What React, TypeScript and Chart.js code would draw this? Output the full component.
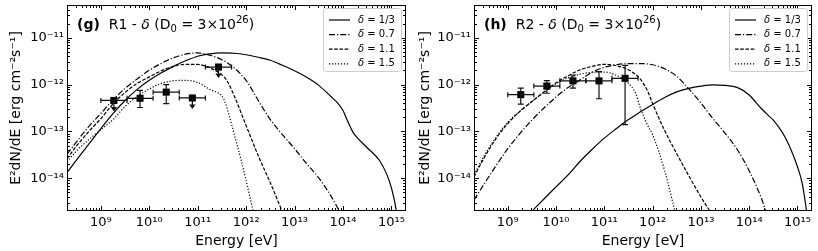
import React, { useEffect, useRef } from 'react';
import { Chart, registerables } from 'chart.js';

Chart.register(...registerables);

const FONT = '"DejaVu Sans", "Liberation Sans", sans-serif';
Chart.defaults.font.family = FONT;
Chart.defaults.color = '#000';

// ---- axes ----
const xMin = 2e8;
const xMax = 2e15;
const yMin = 2e-15;
const yMax = 5e-11;
const xTickValues = [1e9, 1e10, 1e11, 1e12, 1e13, 1e14, 1e15];
const yTickValues = [1e-14, 1e-13, 1e-12, 1e-11];
const xTitle = 'Energy [eV]';
const yTitle = 'E²dN/dE [erg cm⁻²s⁻¹]';
const deltaLabels = ['1/3', '0.7', '1.1', '1.5'];

// ---- Fermi-LAT points (shared energy bins) ----
const fermiE = [1.86e9, 6.45e9, 2.24e10, 7.76e10, 2.69e11];
const fermiELo = [1.0e9, 3.47e9, 1.2e10, 4.16e10, 1.44e11];
const fermiEHi = [3.47e9, 1.2e10, 4.16e10, 1.44e11, 5.0e11];

const r1Flux = [4.58e-13, 5.1e-13, 6.9e-13, 5.18e-13, 2.37e-12];
const r1FluxLo = [null, 3.24e-13, 3.94e-13, null, null];
const r1FluxHi = [null, 7.5e-13, 9.96e-13, null, null];
const r1UpperLimit = [true, false, false, true, true];

const r2Flux = [6.1e-13, 9.29e-13, 1.2e-12, 1.2e-12, 1.36e-12];
const r2FluxLo = [3.81e-13, 6.53e-13, 8.38e-13, 4.98e-13, 1.4e-13];
const r2FluxHi = [8.38e-13, 1.21e-12, 1.6e-12, 1.89e-12, 2.58e-12];
const r2UpperLimit = [false, false, false, false, false];

// ---- R1 model curves ----
const r1E_d033 = [2e8, 3.16e8, 5.62e8, 1e9, 1.78e9, 3.16e9, 5.62e9, 1e10, 1.78e10, 3.16e10, 5.62e10, 1e11, 1.78e11, 3.16e11, 5.62e11, 1e12, 1.78e12, 3.16e12, 5.62e12, 1e13, 1.78e13, 3.16e13, 5.62e13, 7.94e13, 1e14, 1.26e14, 1.58e14, 2e14, 3.16e14, 5.62e14, 7.94e14, 1e15, 1.26e15, 1.35e15];
const r1F_d033 = [1.31e-14, 2.48e-14, 5.34e-14, 1.15e-13, 2.41e-13, 4.58e-13, 7.89e-13, 1.23e-12, 1.78e-12, 2.45e-12, 3.22e-12, 4.03e-12, 4.53e-12, 4.74e-12, 4.67e-12, 4.33e-12, 3.83e-12, 3.3e-12, 2.58e-12, 1.97e-12, 1.43e-12, 9.61e-13, 5.58e-13, 3.94e-13, 2.79e-13, 1.62e-13, 9.91e-14, 7.18e-14, 4.49e-14, 2.42e-14, 1.24e-14, 6.22e-15, 2.0e-15, 1.0e-15];

const r1E_d07 = [2e8, 3.16e8, 5.62e8, 1e9, 1.78e9, 3.16e9, 5.62e9, 1e10, 1.78e10, 3.16e10, 5.62e10, 1e11, 1.78e11, 3.16e11, 5.62e11, 1e12, 1.78e12, 3.16e12, 5.62e12, 1e13, 1.78e13, 3.16e13, 5.62e13, 7.94e13, 1e14];
const r1F_d07 = [3.26e-14, 6.04e-14, 1.27e-13, 2.41e-13, 4.7e-13, 8.28e-13, 1.32e-12, 2.02e-12, 2.85e-12, 3.74e-12, 4.45e-12, 4.74e-12, 4.23e-12, 3.39e-12, 2.28e-12, 1.23e-12, 4.58e-13, 1.79e-13, 8.53e-14, 4.28e-14, 2.04e-14, 1.02e-14, 4.2e-15, 2.21e-15, 1.35e-15];

const r1E_d11 = [2e8, 3.16e8, 5.62e8, 1e9, 1.78e9, 3.16e9, 5.62e9, 1e10, 1.78e10, 3.16e10, 5.62e10, 1e11, 1.78e11, 3.16e11, 3.98e11, 5.62e11, 1e12, 1.78e12, 3.16e12, 5.62e12];
const r1F_d11 = [2.61e-14, 4.95e-14, 9.91e-14, 1.88e-13, 3.85e-13, 6.79e-13, 1.06e-12, 1.46e-12, 1.97e-12, 2.45e-12, 2.71e-12, 2.69e-12, 2.28e-12, 1.61e-12, 1.23e-12, 5.86e-13, 1.33e-13, 3.03e-14, 7.98e-15, 1.9e-15];

const r1E_d15 = [2e8, 3.16e8, 5.62e8, 1e9, 1.78e9, 3.16e9, 5.62e9, 1e10, 1.78e10, 3.16e10, 5.62e10, 1e11, 1.78e11, 2.51e11, 2.95e11, 3.55e11, 4.47e11, 5.62e11, 7.94e11, 1e12, 1.41e12];
const r1F_d15 = [2.25e-14, 3.87e-14, 6.67e-14, 1.09e-13, 1.79e-13, 3.4e-13, 5.58e-13, 8.07e-13, 1.06e-12, 1.21e-12, 1.23e-12, 1.11e-12, 7.9e-13, 6.79e-13, 6.17e-13, 4.58e-13, 2.18e-13, 8.97e-14, 2.37e-14, 8.81e-15, 1.9e-15];

// ---- R2 model curves ----
const r2E_d033 = [1.78e9, 3.16e9, 5.62e9, 1e10, 1.78e10, 3.16e10, 5.62e10, 1e11, 1.78e11, 3.16e11, 5.62e11, 1e12, 1.78e12, 3.16e12, 5.62e12, 1e13, 1.78e13, 3.16e13, 5.62e13, 1e14, 1.78e14, 2.51e14, 3.16e14, 5.62e14, 1e15, 1.26e15, 1.58e15];
const r2F_d033 = [1.08e-15, 1.97e-15, 3.61e-15, 6.54e-15, 1.18e-14, 2.31e-14, 4.17e-14, 7.18e-14, 1.15e-13, 1.79e-13, 2.62e-13, 3.76e-13, 5.31e-13, 6.97e-13, 8.28e-13, 9.23e-13, 9.84e-13, 9.61e-13, 8.71e-13, 6.01e-13, 3.08e-13, 2.18e-13, 1.75e-13, 7.36e-14, 1.76e-14, 7.59e-15, 1.72e-15];

const r2E_d07 = [2e8, 3.16e8, 5.62e8, 1e9, 1.78e9, 3.16e9, 5.62e9, 1e10, 1.78e10, 3.16e10, 5.62e10, 1e11, 1.78e11, 3.16e11, 5.62e11, 1e12, 1.78e12, 3.16e12, 5.62e12, 1e13, 1.78e13, 3.16e13, 5.62e13, 1e14, 1.78e14, 2.24e14];
const r2F_d07 = [3.44e-15, 7.23e-15, 1.8e-14, 4.28e-14, 8.97e-14, 1.75e-13, 3.16e-13, 5.44e-13, 8.71e-13, 1.26e-12, 1.83e-12, 2.34e-12, 2.65e-12, 2.81e-12, 2.81e-12, 2.65e-12, 2.17e-12, 1.5e-12, 8.07e-13, 4.05e-13, 1.88e-13, 9.2e-14, 4.17e-14, 1.44e-14, 3.8e-15, 1.9e-15];

const r2E_d11 = [2e8, 3.16e8, 5.62e8, 1e9, 1.78e9, 3.16e9, 5.62e9, 1e10, 1.78e10, 3.16e10, 5.62e10, 1e11, 1.78e11, 3.16e11, 5.62e11, 7.94e11, 1e12, 1.78e12, 3.16e12, 5.62e12, 1e13, 1.58e13];
const r2F_d11 = [1.07e-14, 2.61e-14, 6.84e-14, 1.47e-13, 2.66e-13, 4.35e-13, 6.97e-13, 1.09e-12, 1.54e-12, 2.07e-12, 2.45e-12, 2.71e-12, 2.52e-12, 2.07e-12, 1.29e-12, 7.14e-13, 3.94e-13, 1.04e-13, 3.34e-14, 1.13e-14, 3.99e-15, 1.9e-15];

const r2E_d15 = [2e8, 3.16e8, 5.62e8, 1e9, 1.78e9, 3.16e9, 5.62e9, 1e10, 1.78e10, 3.16e10, 5.62e10, 1e11, 1.78e11, 3.16e11, 4.47e11, 5.62e11, 7.94e11, 1e12, 1.78e12, 2.82e12, 3.16e12];
const r2F_d15 = [1.18e-14, 2.88e-14, 7.36e-14, 1.55e-13, 2.72e-13, 4.35e-13, 6.79e-13, 1.04e-12, 1.39e-12, 1.66e-12, 1.83e-12, 1.85e-12, 1.57e-12, 1.06e-12, 6.47e-13, 3.08e-13, 1.33e-13, 8.53e-14, 1.44e-14, 2.21e-15, 1.35e-15];

// ---- styles ----
const DASHES: number[][] = [[], [6, 2, 1.2, 2], [3.6, 1.6], [1.2, 1.8]];
const LINE_W = 1.2;

const SUP: Record<string, string> = {
  '0': '⁰', '1': '¹', '2': '²', '3': '³', '4': '⁴', '5': '⁵', '6': '⁶', '7': '⁷', '8': '⁸', '9': '⁹', '-': '⁻',
};
const powLabel = (v: number) =>
  '10' + String(Math.round(Math.log10(v))).split('').map((c) => SUP[c] || c).join('');

type PanelDef = {
  letter: string;
  region: string;
  curves: { E: number[]; F: number[] }[];
  flux: number[];
  fluxLo: (number | null)[];
  fluxHi: (number | null)[];
  ul: boolean[];
  yWidth: number;
  padRight: number;
};

const panels: PanelDef[] = [
  {
    letter: 'g',
    region: 'R1',
    curves: [
      { E: r1E_d033, F: r1F_d033 },
      { E: r1E_d07, F: r1F_d07 },
      { E: r1E_d11, F: r1F_d11 },
      { E: r1E_d15, F: r1F_d15 },
    ],
    flux: r1Flux,
    fluxLo: r1FluxLo,
    fluxHi: r1FluxHi,
    ul: r1UpperLimit,
    yWidth: 67,
    padRight: 3,
  },
  {
    letter: 'h',
    region: 'R2',
    curves: [
      { E: r2E_d033, F: r2F_d033 },
      { E: r2E_d07, F: r2F_d07 },
      { E: r2E_d11, F: r2F_d11 },
      { E: r2E_d15, F: r2F_d15 },
    ],
    flux: r2Flux,
    fluxLo: r2FluxLo,
    fluxHi: r2FluxHi,
    ul: r2UpperLimit,
    yWidth: 65,
    padRight: 6,
  },
];

function makePlugins(p: PanelDef) {
  const errorBars = {
    id: 'errorBars',
    afterDatasetsDraw(chart: any) {
      const { ctx, scales } = chart;
      const xs = scales.x;
      const ys = scales.y;
      ctx.save();
      ctx.strokeStyle = '#111';
      ctx.fillStyle = '#111';
      ctx.lineWidth = 1.2;
      ctx.setLineDash([]);
      for (let i = 0; i < fermiE.length; i++) {
        const px = xs.getPixelForValue(fermiE[i]);
        const py = ys.getPixelForValue(p.flux[i]);
        const xl = xs.getPixelForValue(fermiELo[i]);
        const xh = xs.getPixelForValue(fermiEHi[i]);
        ctx.beginPath();
        ctx.moveTo(xl, py);
        ctx.lineTo(xh, py);
        ctx.moveTo(xl, py - 2.5);
        ctx.lineTo(xl, py + 2.5);
        ctx.moveTo(xh, py - 2.5);
        ctx.lineTo(xh, py + 2.5);
        ctx.stroke();
        if (p.ul[i]) {
          const tip = py + 11;
          ctx.beginPath();
          ctx.moveTo(px, py);
          ctx.lineTo(px, tip - 3);
          ctx.stroke();
          ctx.beginPath();
          ctx.moveTo(px - 3.2, tip - 4.5);
          ctx.lineTo(px + 3.2, tip - 4.5);
          ctx.lineTo(px, tip);
          ctx.closePath();
          ctx.fill();
        } else if (p.fluxLo[i] != null && p.fluxHi[i] != null) {
          const yl = ys.getPixelForValue(p.fluxLo[i] as number);
          const yh = ys.getPixelForValue(p.fluxHi[i] as number);
          ctx.beginPath();
          ctx.moveTo(px, yl);
          ctx.lineTo(px, yh);
          ctx.moveTo(px - 3, yl);
          ctx.lineTo(px + 3, yl);
          ctx.moveTo(px - 3, yh);
          ctx.lineTo(px + 3, yh);
          ctx.stroke();
        }
      }
      ctx.restore();
    },
  };

  const decor = {
    id: 'decor',
    afterDraw(chart: any) {
      const { ctx, chartArea, scales } = chart;
      const L = chartArea.left;
      const R = chartArea.right;
      const T = chartArea.top;
      const B = chartArea.bottom;
      ctx.save();
      ctx.setLineDash([]);
      ctx.strokeStyle = '#000';
      ctx.lineWidth = 1;
      const drawTicks = (scale: any, horizontal: boolean) => {
        const lo = Math.floor(Math.log10(scale.min));
        const hi = Math.ceil(Math.log10(scale.max));
        ctx.beginPath();
        for (let d = lo; d <= hi; d++) {
          for (let k = 1; k <= 9; k++) {
            const v = k * Math.pow(10, d);
            if (v < scale.min * 1.0001 || v > scale.max * 0.9999) continue;
            const pos = Math.round(scale.getPixelForValue(v)) + 0.5;
            const len = k === 1 ? 4.5 : 2.5;
            if (horizontal) {
              ctx.moveTo(pos, B - 0.5);
              ctx.lineTo(pos, B - 0.5 - len);
              ctx.moveTo(pos, T + 0.5);
              ctx.lineTo(pos, T + 0.5 + len);
            } else {
              ctx.moveTo(L + 0.5, pos);
              ctx.lineTo(L + 0.5 + len, pos);
              ctx.moveTo(R - 0.5, pos);
              ctx.lineTo(R - 0.5 - len, pos);
            }
          }
        }
        ctx.stroke();
      };
      drawTicks(scales.x, true);
      drawTicks(scales.y, false);
      ctx.strokeRect(L + 0.5, T + 0.5, R - L - 1, B - T - 1);

      // panel title
      let cx = L + 10;
      const by = T + 23.5;
      ctx.fillStyle = '#000';
      ctx.textBaseline = 'alphabetic';
      ctx.textAlign = 'left';
      const seg = (text: string, font: string, dy = 0) => {
        ctx.font = font;
        ctx.fillText(text, cx, by + dy);
        cx += ctx.measureText(text).width;
      };
      seg(`(${p.letter})`, `bold 14px ${FONT}`);
      seg(`  ${p.region} - `, `14px ${FONT}`);
      seg('δ', `italic 14px ${FONT}`);
      seg(' (D', `14px ${FONT}`);
      seg('0', `10px ${FONT}`, 3);
      seg(' = 3×10', `14px ${FONT}`);
      seg('26', `10px ${FONT}`, -6);
      seg(')', `14px ${FONT}`);

      // legend
      const w = 78;
      const h = 63;
      const lx = Math.round(R - 5 - w) + 0.5;
      const ly = Math.round(T + 3) + 0.5;
      ctx.beginPath();
      (ctx as any).roundRect(lx, ly, w, h, 3);
      ctx.fillStyle = 'rgba(255,255,255,0.8)';
      ctx.fill();
      ctx.strokeStyle = '#cccccc';
      ctx.lineWidth = 1;
      ctx.stroke();
      ctx.textBaseline = 'middle';
      for (let i = 0; i < deltaLabels.length; i++) {
        const yy = ly + 11.5 + i * 14.6;
        ctx.beginPath();
        ctx.strokeStyle = '#000';
        ctx.lineWidth = LINE_W;
        ctx.setLineDash(DASHES[i]);
        ctx.moveTo(lx + 5.5, yy);
        ctx.lineTo(lx + 26.5, yy);
        ctx.stroke();
        ctx.setLineDash([]);
        ctx.fillStyle = '#000';
        let tx = lx + 34.5;
        ctx.font = `italic 10px ${FONT}`;
        ctx.fillText('δ', tx, yy);
        tx += ctx.measureText('δ').width;
        ctx.font = `10px ${FONT}`;
        ctx.fillText(` = ${deltaLabels[i]}`, tx, yy);
      }
      ctx.restore();
    },
  };
  return [errorBars, decor];
}

function buildConfig(p: PanelDef): any {
  const lineSets = p.curves.map((c, i) => ({
    type: 'line',
    label: 'δ = ' + deltaLabels[i],
    data: c.E.map((e, j) => ({ x: e, y: c.F[j] })),
    borderColor: '#000',
    borderWidth: LINE_W,
    borderDash: DASHES[i],
    pointRadius: 0,
    pointHoverRadius: 0,
    fill: false,
    cubicInterpolationMode: 'monotone',
    order: 2,
  }));
  const points = {
    type: 'scatter',
    label: 'Fermi-LAT',
    data: fermiE.map((e, j) => ({ x: e, y: p.flux[j] })),
    pointStyle: 'rect',
    pointRadius: 5,
    pointHoverRadius: 5,
    backgroundColor: '#000',
    borderColor: '#000',
    borderWidth: 0,
    showLine: false,
    order: 0,
  };
  return {
    type: 'line',
    data: { datasets: [...lineSets, points] },
    options: {
      animation: false,
      responsive: false,
      devicePixelRatio: 1,
      events: [],
      layout: { autoPadding: false, padding: { left: 0, right: p.padRight, top: 5, bottom: 0 } },
      plugins: { legend: { display: false }, tooltip: { enabled: false }, title: { display: false } },
      scales: {
        x: {
          type: 'logarithmic',
          min: xMin,
          max: xMax,
          afterBuildTicks: (s: any) => {
            s.ticks = xTickValues.map((v) => ({ value: v }));
          },
          afterFit: (s: any) => {
            s.height = 40;
            s.paddingLeft = 0;
            s.paddingRight = 0;
            s.paddingTop = 0;
            s.paddingBottom = 0;
          },
          grid: { display: false, drawTicks: false },
          border: { display: false },
          ticks: {
            callback: (v: any) => powLabel(Number(v)),
            font: { size: 13, family: FONT },
            color: '#000',
            padding: 4,
            maxRotation: 0,
            autoSkip: false,
          },
          title: { display: true, text: xTitle, font: { size: 14, family: FONT }, color: '#000', padding: { top: 0, bottom: 1 } },
        },
        y: {
          type: 'logarithmic',
          min: yMin,
          max: yMax,
          afterBuildTicks: (s: any) => {
            s.ticks = yTickValues.map((v) => ({ value: v }));
          },
          afterFit: (s: any) => {
            s.width = p.yWidth;
            s.paddingLeft = 0;
            s.paddingRight = 0;
            s.paddingTop = 0;
            s.paddingBottom = 0;
          },
          grid: { display: false, drawTicks: false },
          border: { display: false },
          ticks: {
            callback: (v: any) => powLabel(Number(v)),
            font: { size: 13, family: FONT },
            color: '#000',
            padding: 3,
            autoSkip: false,
          },
          title: { display: true, text: yTitle, font: { size: 14, family: FONT }, color: '#000', padding: { top: 8, bottom: 0 } },
        },
      },
    },
    plugins: makePlugins(p),
  };
}

function Panel({ def }: { def: PanelDef }) {
  const ref = useRef<HTMLCanvasElement>(null);
  useEffect(() => {
    const chart = new Chart(ref.current as HTMLCanvasElement, buildConfig(def));
    return () => chart.destroy();
  }, [def]);
  return <canvas ref={ref} width={409} height={251} style={{ display: 'block', width: 409, height: 251 }} />;
}

export default function App() {
  return (
    <div
      style={{
        position: 'absolute',
        left: 0,
        top: 0,
        width: 818,
        height: 251,
        display: 'flex',
        background: '#fff',
      }}
    >
      {panels.map((p) => (
        <Panel key={p.letter} def={p} />
      ))}
    </div>
  );
}
